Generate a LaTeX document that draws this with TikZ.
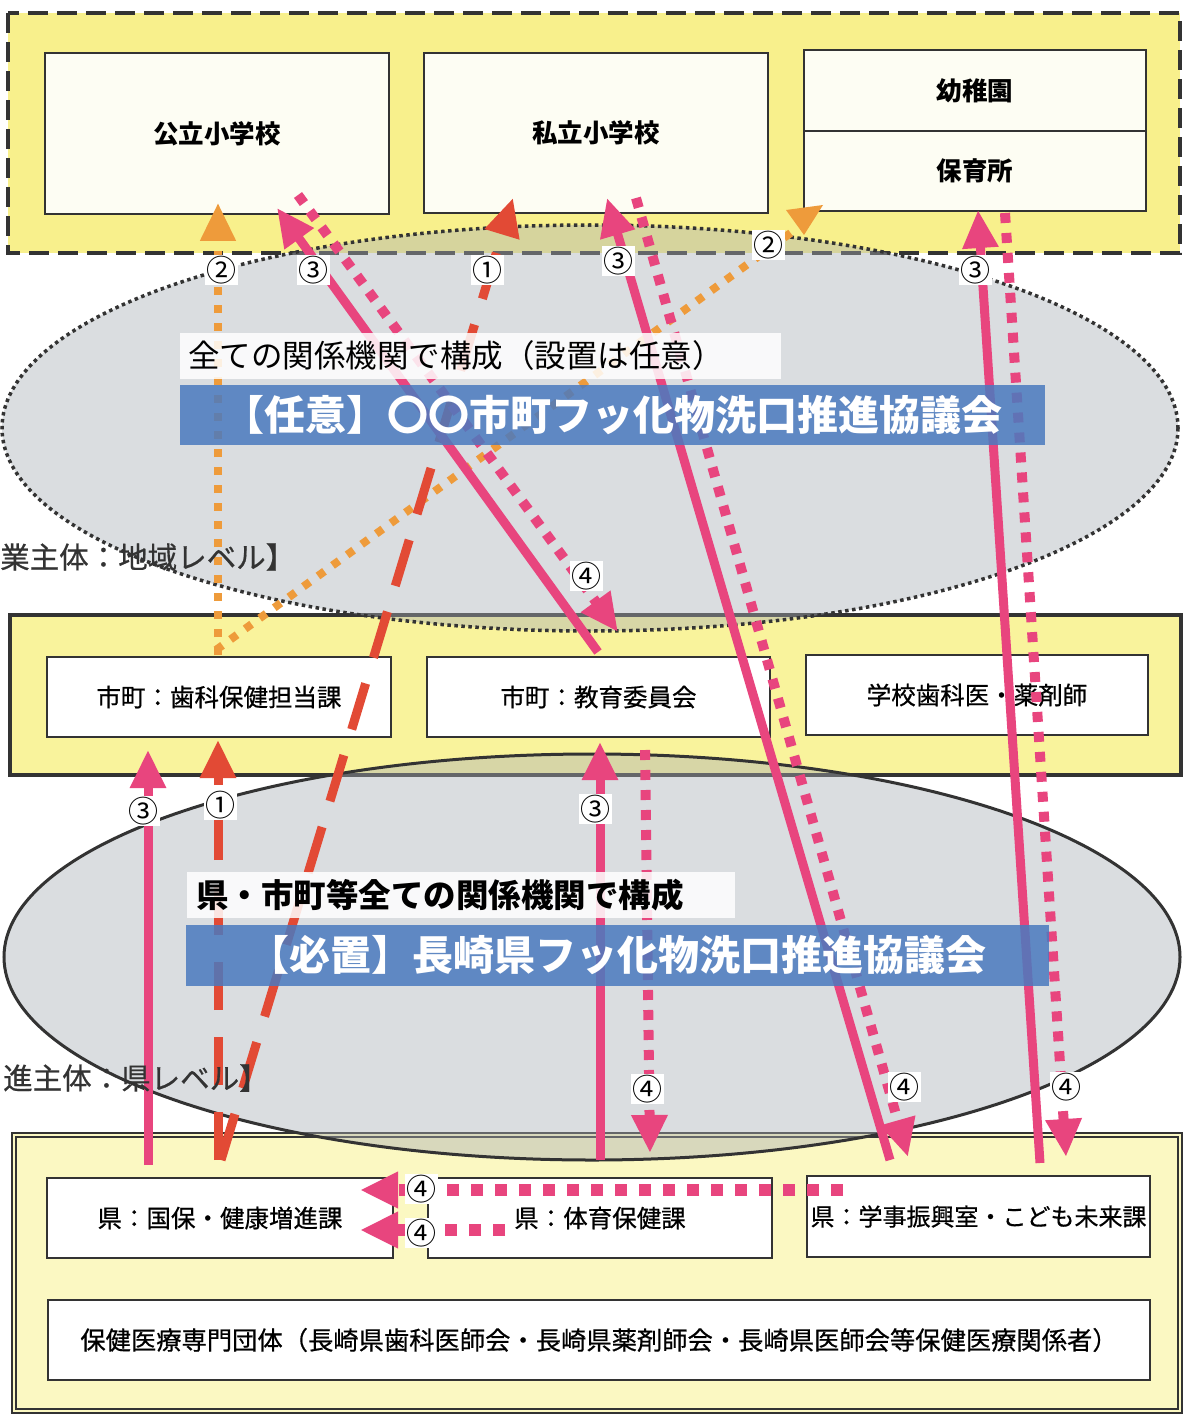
\documentclass[tikz,border=0pt]{standalone}
\usepackage{fontspec}
\setmainfont{Noto Sans CJK JP}
\newfontfamily\medfont[FakeBold=0.6]{Noto Sans CJK JP}
\usetikzlibrary{arrows.meta}
\definecolor{pinkc}{HTML}{E8457E}
\definecolor{redc}{HTML}{E24A35}
\definecolor{orgc}{HTML}{EE9B3B}
\definecolor{bluec}{HTML}{4A7ABF}
\definecolor{yelA}{HTML}{F8F08C}
\definecolor{yelB}{HTML}{F9F39C}
\definecolor{yelC}{HTML}{FBF8C2}
\definecolor{edge}{HTML}{333333}
\definecolor{ellg}{HTML}{A8AEB6}
\definecolor{cream}{HTML}{FDFDF3}
\tikzset{
  topbox/.style={draw=edge, line width=2.2pt, fill=cream, inner sep=0pt, font=\bfseries\fontsize{25.5}{25.5}\selectfont},
  box/.style={draw=edge, line width=2.2pt, fill=white, inner sep=0pt, font=\medfont\fontsize{24.5}{24.5}\selectfont},
  arrowtip/.style={-{Triangle[length=38pt,width=34pt]}},
  pinksolid/.style={draw=pinkc, line width=9pt, arrowtip},
  pinkdot/.style={draw=pinkc, line width=10pt, dash pattern=on 10pt off 10pt, arrowtip},
  reddash/.style={draw=redc, line width=9pt, dash pattern=on 48pt off 27pt, arrowtip},
  orgdot/.style={draw=orgc, line width=8pt, dash pattern=on 8pt off 10pt},
  lbl/.style={fill=white, inner sep=1.5pt, font=\fontsize{30}{30}\selectfont},
  banner/.style={fill=bluec, fill opacity=0.85, text opacity=1, text=white, inner sep=0pt, font=\bfseries\fontsize{41}{41}\selectfont},
  whitebox/.style={fill=white, fill opacity=0.85, text opacity=1, inner sep=0pt, align=left},
  sidetext/.style={anchor=west, inner sep=0pt, text=edge, font=\medfont\fontsize{29.5}{29.5}\selectfont},
}
\begin{document}
\begin{tikzpicture}[x=1pt,y=-1pt]
\useasboundingbox (0,0) rectangle (1184,1415);
\fill[white] (0,0) rectangle (1184,1415);

% yellow frames
\draw[draw=edge, line width=4pt, dash pattern=on 20pt off 9pt, fill=yelA] (8,13) rectangle (1180,253);
\draw[draw=edge, line width=3.5pt, fill=yelB] (10,615) rectangle (1181,775);
\draw[draw=edge, line width=1.5pt, fill=yelC] (12,1133) rectangle (1182,1413);
\draw[draw=edge, line width=1.2pt] (16,1137) rectangle (1178,1409);

% ellipses
\path[fill=ellg, fill opacity=0.42] (590,428) ellipse [x radius=588, y radius=203];
\draw[draw=edge, line width=3.5pt, dash pattern=on 3.5pt off 3.5pt] (590,428) ellipse [x radius=588, y radius=203];
\draw[draw=edge, line width=3pt, fill=ellg, fill opacity=0.42] (592,957) ellipse [x radius=588, y radius=203];

% top boxes
\node[topbox, minimum width=344pt, minimum height=161pt] (kosho) at (217,133.5) {公立小学校};
\node[topbox, minimum width=344pt, minimum height=160pt] (shisho) at (596,133) {私立小学校};
\node[topbox, minimum width=342pt, minimum height=81pt] (yochien) at (975,90.5) {幼稚園};
\node[topbox, minimum width=342pt, minimum height=80pt] (hoiku) at (975,171) {保育所};

% middle boxes
\node[box, minimum width=344pt, minimum height=80pt] (shika) at (219,697) {市町：歯科保健担当課};
\node[box, minimum width=343pt, minimum height=80pt] (kyoiku) at (598.5,697) {市町：教育委員会};
\node[box, minimum width=342pt, minimum height=80pt] (gakko) at (977,695) {学校歯科医・薬剤師};

% bottom boxes
\node[box, minimum width=346pt, minimum height=80pt] (kokuho) at (220,1218) {県：国保・健康増進課};
\node[box, minimum width=344pt, minimum height=80pt] (taiiku) at (600,1218) {県：体育保健課};
\node[box, minimum width=343pt, minimum height=81pt, font=\medfont\fontsize{24}{24}\selectfont] (gakuji) at (978.5,1216.5) {県：学事振興室・こども未来課};
\node[box, minimum width=1102pt, minimum height=80pt, font=\medfont\fontsize{25.3}{25.3}\selectfont] (senmon) at (599,1340) {保健医療専門団体（長崎県歯科医師会・長崎県薬剤師会・長崎県医師会等保健医療関係者）};

% arrow end points
\coordinate (aS) at (148,1165); \coordinate (aE) at (148,750);
\coordinate (bS) at (218,1160); \coordinate (bE) at (218,740);
\coordinate (cS) at (221,1160); \coordinate (cE) at (513,198);
\coordinate (dS) at (598,652);  \coordinate (dE) at (277,208);
\coordinate (eS) at (298,195);  \coordinate (eE) at (618,632);
\coordinate (fS) at (218,655);  \coordinate (fE) at (218,203);
\coordinate (gS) at (216,650);  \coordinate (gE) at (792,232);
\coordinate (hS) at (890,1160); \coordinate (hE) at (607,198);
\coordinate (iS) at (636,198);  \coordinate (iE) at (908,1157);
\coordinate (jS) at (1040,1163); \coordinate (jE) at (978,210);
\coordinate (kS) at (1005,213); \coordinate (kE) at (1066,1157);
\coordinate (lS) at (600,1160); \coordinate (lE) at (600,742);
\coordinate (mS) at (645,750);  \coordinate (mE) at (650,1153);
\coordinate (nS) at (843,1190); \coordinate (nE) at (360,1190);
\coordinate (oS) at (505,1230); \coordinate (oE) at (360,1230);

% orange (2)
\draw[orgdot, arrowtip] (fS) -- (fE);
\draw[orgdot] (gS) -- (gE);
\fill[orgc] (786,210) -- (823,205) -- (804,235) -- cycle;

% red (1)
\draw[reddash] (bS) -- (bE);
\draw[reddash] (cS) -- (cE);

% pink (3) and (4)
\draw[pinksolid] (aS) -- (aE);
\draw[pinksolid] (dS) -- (dE);
\draw[pinkdot] (eS) -- (eE);
\draw[pinksolid] (hS) -- (hE);
\draw[pinkdot] (iS) -- (iE);
\draw[pinksolid] (jS) -- (jE);
\draw[pinkdot] (kS) -- (kE);
\draw[pinksolid] (lS) -- (lE);
\draw[pinkdot] (mS) -- (mE);
\draw[pinkdot, dash pattern=on 12pt off 12pt, line width=12pt] (nS) -- (nE);
\draw[pinkdot, dash pattern=on 12pt off 12pt, line width=12pt] (oS) -- (oE);

% council titles
\node[whitebox, minimum width=601pt, minimum height=46pt, text width=585pt, font=\fontsize{31.5}{31.5}\selectfont] (t1) at (480.5,356) {全ての関係機関で構成（設置は任意）};
\node[banner, minimum width=865pt, minimum height=60pt] (ban1) at (612.5,415) {【任意】〇〇市町フッ化物洗口推進協議会};
\node[whitebox, minimum width=548pt, minimum height=46pt, text width=530pt, font=\bfseries\fontsize{32.5}{32.5}\selectfont] (t2) at (461,895) {県・市町等全ての関係機関で構成};
\node[banner, minimum width=863pt, minimum height=61pt] (ban2) at (617.5,955.5) {【必置】長崎県フッ化物洗口推進協議会};

\node[sidetext] (lvl1) at (0,557) {業主体：地域レベル】};
\node[sidetext] (lvl2) at (3,1078) {進主体：県レベル】};

% labels
\node[lbl] (n1) at (221,270) {②};
\node[lbl] (n2) at (313,270) {③};
\node[lbl] (n3) at (487,270) {①};
\node[lbl] (n4) at (618,261) {③};
\node[lbl] (n5) at (768,245) {②};
\node[lbl] (n6) at (975,270) {③};
\node[lbl] (n7) at (586,576) {④};
\node[lbl] (n8) at (143,811) {③};
\node[lbl] (n9) at (220,805) {①};
\node[lbl] (n10) at (595,809) {③};
\node[lbl] (n11) at (647,1089) {④};
\node[lbl] (n12) at (904,1087) {④};
\node[lbl] (n13) at (1066,1087) {④};
\node[lbl] (n14) at (421,1189) {④};
\node[lbl] (n15) at (421,1233) {④};
\end{tikzpicture}
\end{document}
